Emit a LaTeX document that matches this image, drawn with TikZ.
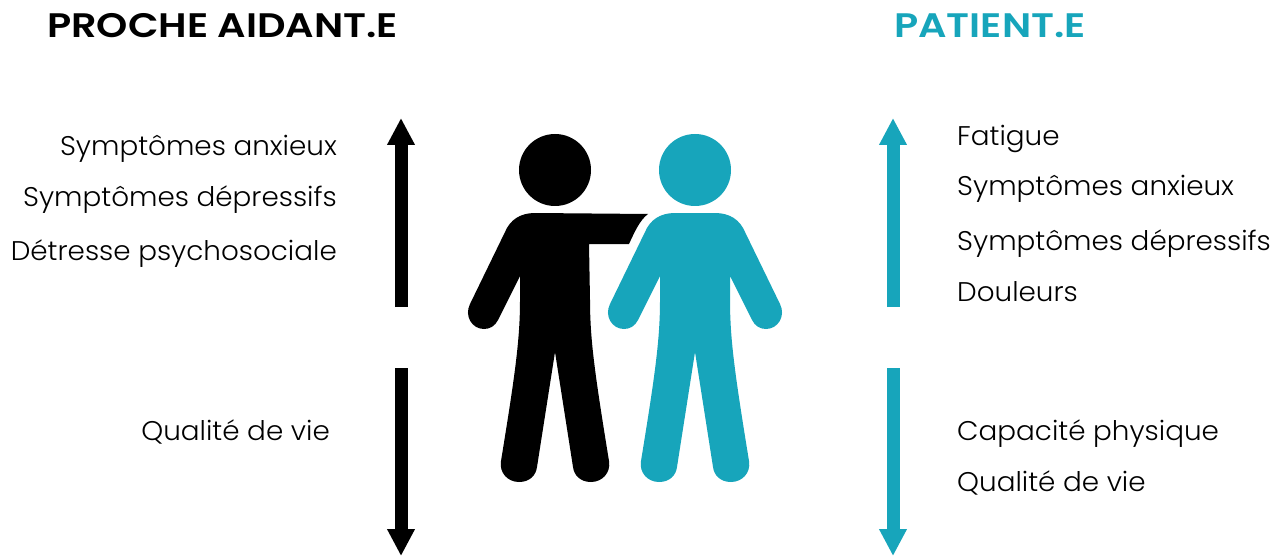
\documentclass[tikz,border=0pt]{standalone}
\usepackage{fontspec}
\setmainfont{Poppins Light}[FakeStretch=1.03]
\newfontfamily\titlefont{Poppins SemiBold}[FakeStretch=1.17]
\usepackage{tikz}
\usetikzlibrary{arrows.meta,positioning}
\definecolor{patientcol}{HTML}{17A5BB}

\begin{document}
\begin{tikzpicture}[
    x=1pt, y=-1pt,
    title/.style={font=\titlefont\fontsize{34}{34}\selectfont, inner sep=0pt, anchor=base west},
    symptom/.style={font=\fontsize{27}{27}\selectfont, inner sep=0pt},
    leftlabel/.style={symptom, anchor=base east},
    rightlabel/.style={symptom, anchor=base west},
    arrow/.style={-{Triangle[length=27pt,width=26pt]}, line width=13pt}
  ]
    \useasboundingbox (0,0) rectangle (1279,556);

    % titles
    \node[title] (aidant) at (47,38) {PROCHE AIDANT.E};
    \node[title, patientcol] (patient) at (894,38) {PATIENT.E};

    % left column
    \node[leftlabel] (anxA) at (337,156) {Symptômes anxieux};
    \node[leftlabel] (depA) at (337,207) {Symptômes dépressifs};
    \node[leftlabel] (detA) at (337,260) {Détresse psychosociale};
    \node[leftlabel] (qolA) at (330,440) {Qualité de vie};

    % right column
    \node[rightlabel] (fatP) at (957,146) {Fatigue};
    \node[rightlabel] (anxP) at (957,196) {Symptômes anxieux};
    \node[rightlabel] (depP) at (957,250) {Symptômes dépressifs};
    \node[rightlabel] (douP) at (957,301) {Douleurs};
    \node[rightlabel] (capP) at (957,440) {Capacité physique};
    \node[rightlabel] (qolP) at (957,491) {Qualité de vie};

    % arrows
    \coordinate (aUpS) at (401,307);
    \coordinate (aUpE) at (401,118);
    \coordinate (aDnS) at (401,368);
    \coordinate (aDnE) at (401,556);
    \coordinate (pUpS) at (893,307);
    \coordinate (pUpE) at (893,118);
    \coordinate (pDnS) at (893,368);
    \coordinate (pDnE) at (893,556);
    \draw[arrow, black] (aUpS) -- (aUpE);
    \draw[arrow, black] (aDnS) -- (aDnE);
    \draw[arrow, patientcol] (pUpS) -- (pUpE);
    \draw[arrow, patientcol] (pDnS) -- (pDnE);

    % black figure
    \fill[black] (555,170) circle (36);
    \fill[black] (535,213) -- (648,214) .. controls (640,220) and (635,231) .. (629,244)
      -- (589,244) -- (590,300) .. controls (590,340) and (595,375) .. (609,461)
      .. controls (611,473) and (602,482) .. (591,482)
      .. controls (580,482) and (574,475) .. (573,467)
      -- (555,352) -- (537,467)
      .. controls (536,475) and (530,482) .. (519,482)
      .. controls (508,482) and (499,473) .. (501,461)
      .. controls (515,375) and (520,340) .. (520,300) -- (520,276)
      -- (498,320) .. controls (495,326) and (490,329) .. (484,329)
      .. controls (472,329) and (464,316) .. (470,304)
      -- (505,232) .. controls (510,220) and (520,213) .. (535,213) -- cycle;

    % teal figure
    \fill[patientcol] (695,170) circle (36);
    \fill[patientcol] (675,213) -- (715,213) .. controls (730,213) and (740,220) .. (745,232)
      -- (780,304) .. controls (786,316) and (778,329) .. (766,329)
      .. controls (760,329) and (755,326) .. (752,320)
      -- (730,276) -- (730,300) .. controls (730,340) and (735,375) .. (749,461)
      .. controls (751,473) and (742,482) .. (731,482)
      .. controls (720,482) and (714,475) .. (713,467)
      -- (695,352) -- (677,467)
      .. controls (676,475) and (670,482) .. (659,482)
      .. controls (648,482) and (639,473) .. (641,461)
      .. controls (655,375) and (660,340) .. (660,300) -- (660,276)
      -- (638,320) .. controls (635,326) and (630,329) .. (624,329)
      .. controls (612,329) and (604,316) .. (610,304)
      -- (645,232) .. controls (650,220) and (660,213) .. (675,213) -- cycle;
\end{tikzpicture}
\end{document}
